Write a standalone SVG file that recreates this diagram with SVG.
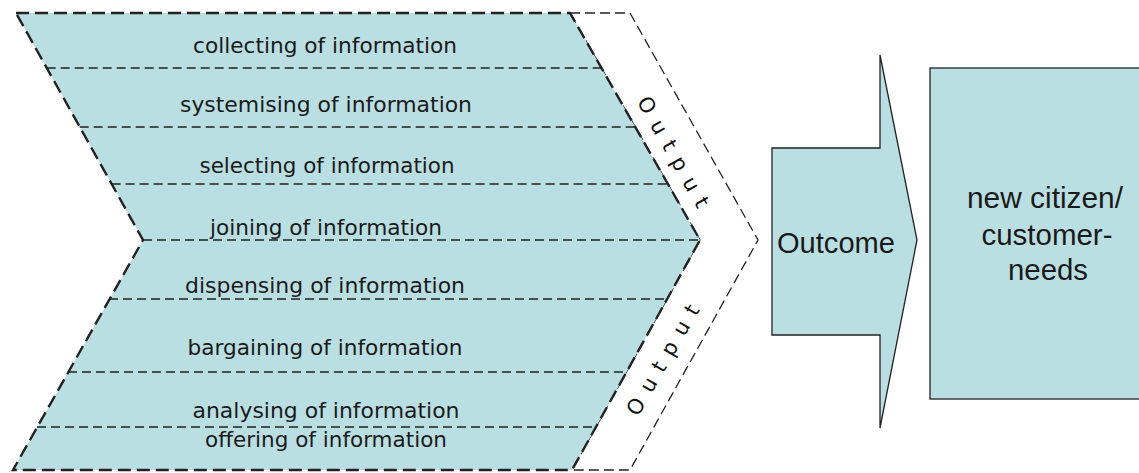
<svg xmlns="http://www.w3.org/2000/svg" width="1139" height="473" viewBox="0 0 1139 473">
  <style>
    .teal { fill: #badfe3; }
    .outline { fill: none; stroke: #222; stroke-width: 2.4; stroke-dasharray: 13 6; }
    .outer { fill: #ffffff; stroke: #222; stroke-width: 1.3; stroke-dasharray: 10 5; }
    .div { fill: none; stroke: #222; stroke-width: 1.6; stroke-dasharray: 9 5; }
    .solid { stroke: #222; stroke-width: 1.3; }
    .lbl { font-family: "DejaVu Sans", "Liberation Sans", sans-serif; font-size: 21px; fill: #1a1a1a; text-anchor: middle; }
    .out { font-family: "DejaVu Sans", "Liberation Sans", sans-serif; font-size: 21px; fill: #111; text-anchor: middle; }
    .big { font-family: "Liberation Sans", "DejaVu Sans", sans-serif; font-size: 29px; fill: #1a1a1a; text-anchor: middle; }
  </style>

  <!-- Output bands -->
  <g id="output-band">
    <path class="outer" d="M570,13 L630,13 L758,240 L630,470 L572,470 L700,240 Z"/>
    <text class="out" transform="translate(673,152) rotate(60.5)" dy="7" textLength="124" lengthAdjust="spacing">Output</text>
    <text class="out" transform="translate(663,360) rotate(-60)" dy="7" textLength="124" lengthAdjust="spacing">Output</text>
  </g>

  <!-- Process chevron -->
  <g id="process-chevron">
    <path class="teal" d="M16,13 L570,13 L700,240 L572,470 L13,470 L143,240 Z"/>
    <line class="div" x1="46.7" y1="68" x2="601.5" y2="68"/>
    <line class="div" x1="79.7" y1="127" x2="635.3" y2="127"/>
    <line class="div" x1="111.6" y1="184" x2="667.9" y2="184"/>
    <line class="div" x1="143" y1="240" x2="700" y2="240"/>
    <line class="div" x1="109" y1="299" x2="667" y2="299"/>
    <line class="div" x1="68" y1="372" x2="626.5" y2="372"/>
    <line class="div" x1="37" y1="427" x2="596" y2="427"/>
    <path class="outline" d="M16,13 L570,13 L700,240 L572,470 L13,470 L143,240 Z"/>
    <text class="lbl" x="325" y="53" textLength="264" lengthAdjust="spacingAndGlyphs">collecting of information</text>
    <text class="lbl" x="326" y="112" textLength="292" lengthAdjust="spacingAndGlyphs">systemising of information</text>
    <text class="lbl" x="327" y="173" textLength="255" lengthAdjust="spacingAndGlyphs">selecting of information</text>
    <text class="lbl" x="326" y="235" textLength="232" lengthAdjust="spacingAndGlyphs">joining of information</text>
    <text class="lbl" x="325" y="293" textLength="280" lengthAdjust="spacingAndGlyphs">dispensing of information</text>
    <text class="lbl" x="325" y="355" textLength="275" lengthAdjust="spacingAndGlyphs">bargaining of information</text>
    <text class="lbl" x="326" y="418" textLength="267" lengthAdjust="spacingAndGlyphs">analysing of information</text>
    <text class="lbl" x="326" y="447" textLength="242" lengthAdjust="spacingAndGlyphs">offering of information</text>
  </g>

  <!-- Outcome arrow -->
  <g id="outcome">
    <path class="teal solid" d="M772,148 L880,148 L880,55 L917,240 L880,428 L880,335 L772,335 Z"/>
    <text class="big" x="836" y="253" textLength="118" lengthAdjust="spacingAndGlyphs">Outcome</text>
  </g>

  <!-- Needs box -->
  <g id="needs">
    <rect class="teal solid" x="930" y="68" width="215" height="331"/>
    <text class="big" x="1045" y="208" textLength="156" lengthAdjust="spacingAndGlyphs">new citizen/</text>
    <text class="big" x="1047" y="245" textLength="131" lengthAdjust="spacingAndGlyphs">customer-</text>
    <text class="big" x="1048" y="280" textLength="80" lengthAdjust="spacingAndGlyphs">needs</text>
  </g>

  <g id="connectors"/>
</svg>
